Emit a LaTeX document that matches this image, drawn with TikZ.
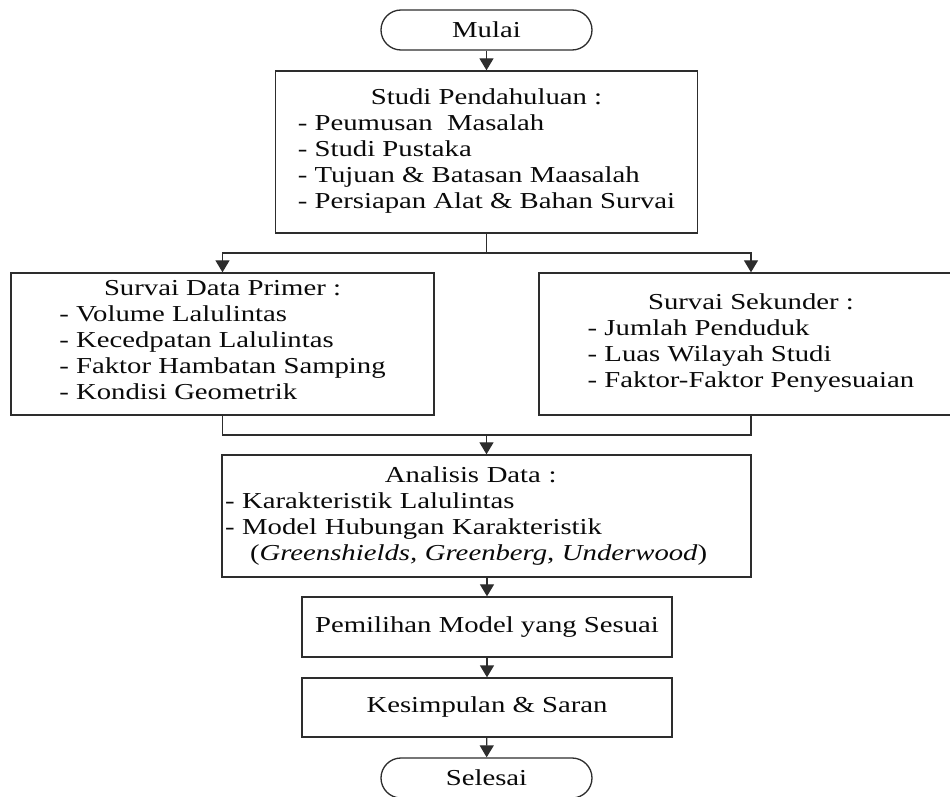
\documentclass[tikz,border=0pt]{standalone}
\usepackage{fontspec}
\setmainfont{Liberation Serif}[FakeStretch=1.26]
\usepackage{tikz}
\usetikzlibrary{arrows.meta,positioning,calc}
\definecolor{inkBlack}{RGB}{10, 10, 10}
\definecolor{inkLine}{RGB}{45, 45, 45}

\tikzset{
    flowBox/.style={draw=inkLine, line width=0.65pt, fill=white, inner sep=2pt, align=center,
        font=\fontsize{11.4pt}{13pt}\selectfont, text=inkBlack},
    flowTerm/.style={flowBox, rounded corners=10pt, minimum width=105.5pt, minimum height=20pt},
    flowArrow/.style={draw=inkLine, line width=0.65pt, -{Triangle[length=6pt,width=7pt]}},
    flowLine/.style={draw=inkLine, line width=0.65pt}
}

\begin{document}
\begin{tikzpicture}[x=0.5pt, y=-0.5pt]
    \useasboundingbox (0,0) rectangle (950,797);

    \node[flowTerm] (mulai) at (486.5,30) {Mulai};
    \node[flowBox, minimum width=211pt, minimum height=81pt] (studi) at (486.5,152) {
        Studi Pendahuluan :\\
        \begin{tabular}[t]{@{}l@{}}
            - Peumusan\ \ Masalah\\
            - Studi Pustaka\\
            - Tujuan \& Batasan Maasalah\\
            - Persiapan Alat \& Bahan Survai
        \end{tabular}};
    \node[flowBox, minimum width=211.5pt, minimum height=71pt] (primer) at (222.5,344) {
        Survai Data Primer :\\
        \begin{tabular}[t]{@{}l@{}}
            - Volume Lalulintas\\
            - Kecedpatan Lalulintas\\
            - Faktor Hambatan Samping\\
            - Kondisi Geometrik
        \end{tabular}};
    \node[flowBox, minimum width=212pt, minimum height=71pt] (sekunder) at (751,344) {
        Survai Sekunder :\\
        \begin{tabular}[t]{@{}l@{}}
            - Jumlah Penduduk\\
            - Luas Wilayah Studi\\
            - Faktor-Faktor Penyesuaian
        \end{tabular}};
    \node[flowBox, align=left, text width=261.5pt, inner xsep=1.5pt, minimum height=61pt] (analisis) at (486.5,516) {
        \hspace*{80pt}Analisis Data :\\
        - Karakteristik Lalulintas\\
        - Model Hubungan Karakteristik\\
        \hspace*{12.5pt}(\textit{Greenshields, Greenberg, Underwood})};
    \node[flowBox, minimum width=185pt, minimum height=30pt] (pemilihan) at (487,627) {Pemilihan Model yang Sesuai};
    \node[flowBox, minimum width=185pt, minimum height=29.5pt] (kesimpulan) at (487,707.5) {Kesimpulan \& Saran};
    \node[flowTerm] (selesai) at (486.5,778) {Selesai};

    % branching and joining points
    \coordinate (split) at (486.5,253);
    \coordinate (join) at (486.5,435);

    \draw[flowArrow] (mulai) -- (studi);
    \draw[flowLine] (studi.south) -- (split);
    \draw[flowArrow] (split) -| (primer.north);
    \draw[flowArrow] (split) -| (sekunder.north);
    \draw[flowLine] (primer.south) |- (join) -| (sekunder.south);
    \draw[flowArrow] (join) -- (analisis.north);
    \draw[flowArrow] (analisis.south -| pemilihan) -- (pemilihan);
    \draw[flowArrow] (pemilihan) -- (kesimpulan);
    \draw[flowArrow] (kesimpulan) -- (selesai);
\end{tikzpicture}
\end{document}
